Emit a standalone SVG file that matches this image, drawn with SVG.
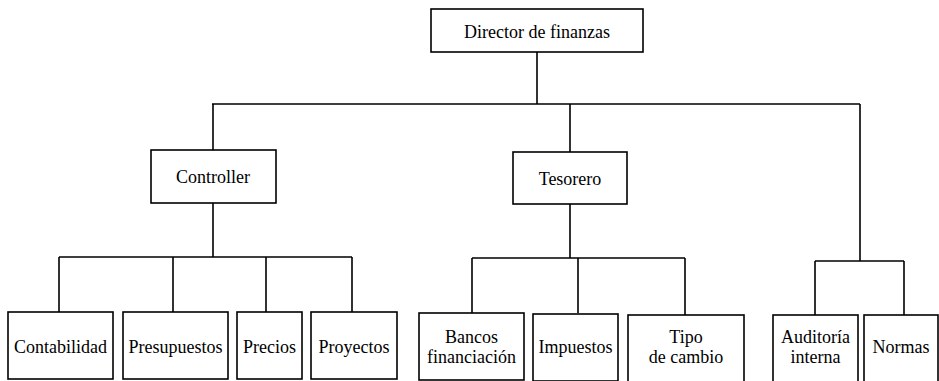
<svg xmlns="http://www.w3.org/2000/svg" width="939" height="381" viewBox="0 0 939 381">
<style>
rect{fill:#fff;stroke:#000;stroke-width:1.6}
text{font-family:'Liberation Serif','Times New Roman',Tinos,'Noto Serif','DejaVu Serif',FreeSerif,Times,serif;font-size:18px;fill:#000;text-anchor:middle}
#connectors path{fill:none;stroke:#000;stroke-width:1.6}
</style>
<rect x="0" y="0" width="939" height="381" style="fill:#fff;stroke:none"/>
<g id="connectors">
<path d="M537 52V104M212 104H860M213 104V150M570 104V152M860 104V261"/>
<path d="M213 203V257M59 257H352M59 257V312M173 257V312M266 257V312M352 257V312"/>
<path d="M570 204V258M472 258H685M472 258V313M578 258V313M685 258V315"/>
<path d="M815 261H904M815 261V315M904 261V315"/>
</g>
<g id="director"><rect x="431" y="9" width="212" height="43"/><text x="537" y="38">Director de finanzas</text></g>
<g id="controller"><rect x="151" y="150" width="125" height="53"/><text x="213" y="183">Controller</text></g>
<g id="tesorero"><rect x="513" y="152" width="114" height="52"/><text x="570" y="185">Tesorero</text></g>
<g id="contabilidad"><rect x="8" y="312" width="105" height="67"/><text x="60.5" y="353">Contabilidad</text></g>
<g id="presupuestos"><rect x="123" y="312" width="105" height="67"/><text x="175.5" y="353">Presupuestos</text></g>
<g id="precios"><rect x="237" y="312" width="65" height="67"/><text x="269.5" y="353">Precios</text></g>
<g id="proyectos"><rect x="311" y="312" width="86" height="67"/><text x="354" y="353">Proyectos</text></g>
<g id="bancos"><rect x="419" y="313" width="105" height="67"/><text x="471.5" y="343">Bancos</text><text x="471.5" y="363">financiación</text></g>
<g id="impuestos"><rect x="533" y="314" width="85" height="67"/><text x="575.5" y="353">Impuestos</text></g>
<g id="tipo"><rect x="628" y="315" width="116" height="67"/><text x="686" y="343">Tipo</text><text x="686" y="363">de cambio</text></g>
<g id="auditoria"><rect x="773" y="315" width="85" height="67"/><text x="815.5" y="343">Auditoría</text><text x="815.5" y="363">interna</text></g>
<g id="normas"><rect x="864" y="315" width="74" height="67"/><text x="901" y="353">Normas</text></g>
</svg>
